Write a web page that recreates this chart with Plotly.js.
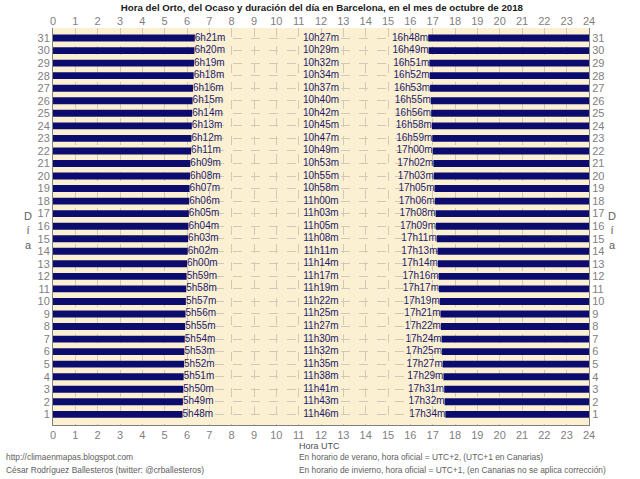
<!DOCTYPE html>
<html>
<head>
<meta charset="utf-8">
<script src="https://cdn.plot.ly/plotly-3.0.1.min.js"></script>
<style>html,body{margin:0;padding:0;background:#fff}#chart{width:640px;height:479px}</style>
</head>
<body>
<div id="chart"></div>
<script>
// Día del mes (1..31)
const days = [1,2,3,4,5,6,7,8,9,10,11,12,13,14,15,16,17,18,19,20,21,22,23,24,25,26,27,28,29,30,31];
// Hora del orto (UTC)
const sunrise = ["5h48m","5h49m","5h50m","5h51m","5h52m","5h53m","5h54m","5h55m","5h56m","5h57m","5h58m","5h59m","6h00m","6h02m","6h03m","6h04m","6h05m","6h06m","6h07m","6h08m","6h09m","6h11m","6h12m","6h13m","6h14m","6h15m","6h16m","6h18m","6h19m","6h20m","6h21m"];
// Hora del ocaso (UTC)
const sunset = ["17h34m","17h32m","17h31m","17h29m","17h27m","17h25m","17h24m","17h22m","17h21m","17h19m","17h17m","17h16m","17h14m","17h13m","17h11m","17h09m","17h08m","17h06m","17h05m","17h03m","17h02m","17h00m","16h59m","16h58m","16h56m","16h55m","16h53m","16h52m","16h51m","16h49m","16h48m"];
// Duración del día
const duration = ["11h46m","11h43m","11h41m","11h38m","11h35m","11h32m","11h30m","11h27m","11h25m","11h22m","11h19m","11h17m","11h14m","11h11m","11h08m","11h05m","11h03m","11h00m","10h58m","10h55m","10h53m","10h49m","10h47m","10h45m","10h42m","10h40m","10h37m","10h34m","10h32m","10h29m","10h27m"];
// Horas del eje
const hourTicks = [0,1,2,3,4,5,6,7,8,9,10,11,12,13,14,15,16,17,18,19,20,21,22,23,24];

function toHours(s){ const m = s.match(/(\d+)h(\d+)m/); return (+m[1]) + (+m[2])/60; }
const riseH = sunrise.map(toHours);
const setH = sunset.map(toHours);
const nightAfter = setH.map(h => 24 - h);
const midX = days.map(() => 12);

const barColor = '#0c0c6e';
const txtColor = '#1c1c6a';
const FAM = 'Liberation Sans, Arial, sans-serif';
const lblFont = {family: FAM, size: 10, color: txtColor};

const traces = [
  {type:'bar', orientation:'h', x: riseH, y: days, base: 0, width: 0.55,
   marker:{color: barColor, line:{width:0}}, hoverinfo:'skip', showlegend:false},
  {type:'bar', orientation:'h', x: nightAfter, y: days, base: setH, width: 0.55,
   marker:{color: barColor, line:{width:0}}, hoverinfo:'skip', showlegend:false, yaxis:'y2'},
  {type:'scatter', mode:'text', x: riseH, y: days, text: sunrise, textposition:'middle right',
   textfont: lblFont, hoverinfo:'skip', showlegend:false},
  {type:'scatter', mode:'text', x: setH, y: days, text: sunset, textposition:'middle left',
   textfont: lblFont, hoverinfo:'skip', showlegend:false},
  {type:'scatter', mode:'text', x: midX, y: days, text: duration, textposition:'middle center',
   textfont: lblFont, hoverinfo:'skip', showlegend:false, xaxis:'x2'}
];

const tickFont = {family: FAM, size: 11, color:'#808080'};
const yRange = [0.15, 31.8];
const noteFont = {family: FAM, size: 8.4, color:'#606060'};

const layout = {
  width: 640, height: 479,
  margin: {l:53, r:51, t:28, b:54, pad:0},
  paper_bgcolor: '#ffffff',
  plot_bgcolor: '#fcf0d3',
  barmode: 'overlay',
  title: {text: 'Hora del Orto, del Ocaso y duración del día en Barcelona, en el mes de octubre de 2018',
          font: {family: FAM, size: 9.7, color:'#202020', weight: 'bold'},
          x: 0.503, xanchor:'center', y: 0.992, yanchor:'top'},
  xaxis: {range:[0,24], tickvals: hourTicks, ticktext: hourTicks.map(String), tickfont: tickFont,
          showgrid:true, gridcolor:'#d2c9b6', griddash:'dash', gridwidth:1, zeroline:false,
          showline:true, linecolor:'#808080', linewidth:1, mirror:false, ticks:''},
  xaxis2: {range:[0,24], overlaying:'x', side:'top', tickvals: hourTicks, ticktext: hourTicks.map(String),
          tickfont: tickFont, showgrid:false, zeroline:false, showline:false, ticks:''},
  yaxis: {range: yRange, tickvals: days, ticktext: days.map(String), tickfont: tickFont,
          showgrid:true, gridcolor:'#d2c9b6', griddash:'dash', gridwidth:1, zeroline:false,
          showline:true, linecolor:'#808080', linewidth:1, ticks:''},
  yaxis2: {range: yRange, overlaying:'y', side:'right', tickvals: days, ticktext: days.map(String),
          tickfont: tickFont, showgrid:false, zeroline:false, showline:true, linecolor:'#808080', linewidth:1, ticks:''},
  annotations: [
    {text:'D<br>í<br>a', xref:'paper', yref:'paper', x:-0.047, y:0.49, xanchor:'center', yanchor:'middle', showarrow:false,
     font:{family: FAM, size:11, color:'#606060'}, align:'center'},
    {text:'D<br>í<br>a', xref:'paper', yref:'paper', x:1.043, y:0.49, xanchor:'center', yanchor:'middle', showarrow:false,
     font:{family: FAM, size:11, color:'#606060'}, align:'center'},
    {text:'Hora UTC', xref:'paper', yref:'paper', x:0.456, y:-0.053, xanchor:'left', yanchor:'middle', showarrow:false,
     font:{family: FAM, size:9, color:'#505050'}},
    {text:'http://climaenmapas.blogspot.com', xref:'paper', yref:'paper', x:-0.091, y:-0.081, xanchor:'left', yanchor:'middle', showarrow:false,
     font: noteFont},
    {text:'César Rodríguez Ballesteros (twitter: @crballesteros)', xref:'paper', yref:'paper', x:-0.091, y:-0.113, xanchor:'left', yanchor:'middle', showarrow:false,
     font: noteFont},
    {text:'En horario de verano, hora oficial = UTC+2, (UTC+1 en Canarias)', xref:'paper', yref:'paper', x:0.456, y:-0.081, xanchor:'left', yanchor:'middle', showarrow:false,
     font: noteFont},
    {text:'En horario de invierno, hora oficial = UTC+1, (en Canarias no se aplica corrección)', xref:'paper', yref:'paper', x:0.456, y:-0.113, xanchor:'left', yanchor:'middle', showarrow:false,
     font: noteFont}
  ]
};

Plotly.newPlot('chart', traces, layout, {displayModeBar:false, staticPlot:true});
</script>
</body>
</html>
